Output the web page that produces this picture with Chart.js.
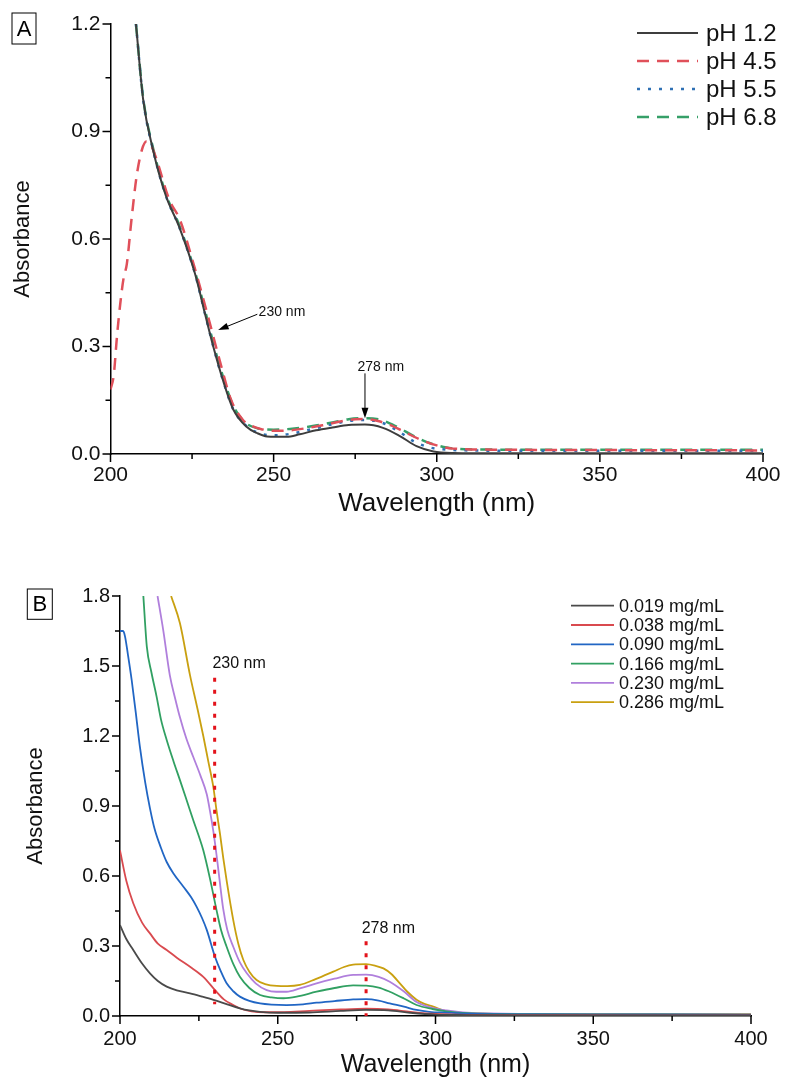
<!DOCTYPE html>
<html>
<head>
<meta charset="utf-8">
<script src="https://cdn.jsdelivr.net/npm/chart.js@4.4.0/dist/chart.umd.min.js"></script>
<style>
  body { margin: 0; background: #fff; width: 785px; height: 1080px; position: relative; overflow: hidden; }
  canvas { position: absolute; left: 0; }
  #chartA { top: 0; }
  #chartB { top: 550px; }
</style>
</head>
<body>
<canvas id="chartA" width="785" height="545"></canvas>
<canvas id="chartB" width="785" height="530"></canvas>
<script>
// ---- panel A : pH series ----
const xTicks = [200, 250, 300, 350, 400];
const yTicksA = [0, 0.3, 0.6, 0.9, 1.2];
const yTicksB = [0, 0.3, 0.6, 0.9, 1.2, 1.5, 1.8];

const labelsA = ['pH 1.2', 'pH 4.5', 'pH 5.5', 'pH 6.8'];

const wlPh12 = [207.8, 210, 213, 217, 221, 226, 229, 231.5, 234.5, 237.6, 241.7, 245, 248, 254, 258, 263, 268, 273, 278, 283.5, 288.7, 293.8, 299, 305, 320, 350, 400];
const absPh12 = [1.2, 0.99, 0.85, 0.72, 0.635, 0.50, 0.39, 0.30, 0.205, 0.125, 0.076, 0.058, 0.049, 0.048, 0.055, 0.066, 0.074, 0.081, 0.082, 0.073, 0.05, 0.022, 0.007, 0.003, 0.002, 0.002, 0.002];

const wlPh45 = [200, 201, 202, 203, 204, 205, 206.5, 208, 209.6, 211, 212.5, 214, 218, 221.3, 225.4, 230, 233.5, 237, 240.6, 243, 246, 250, 255, 260, 265, 270, 275, 278, 282, 286, 290, 295, 300, 305, 320, 350, 400];
const absPh45 = [0.18, 0.22, 0.33, 0.42, 0.49, 0.53, 0.66, 0.775, 0.848, 0.872, 0.86, 0.825, 0.71, 0.653, 0.532, 0.38, 0.26, 0.15, 0.095, 0.08, 0.07, 0.065, 0.066, 0.072, 0.08, 0.09, 0.097, 0.098, 0.092, 0.08, 0.062, 0.04, 0.024, 0.015, 0.012, 0.011, 0.010];

const wlPh55 = [207.8, 210, 213, 217, 221, 226, 229, 231.5, 234.5, 237.6, 241.7, 245, 250, 255, 262, 268, 273, 278, 283, 288, 293, 298, 303, 310, 330, 360, 400];
const absPh55 = [1.2, 0.99, 0.85, 0.72, 0.635, 0.50, 0.39, 0.30, 0.205, 0.125, 0.078, 0.06, 0.052, 0.056, 0.07, 0.083, 0.092, 0.095, 0.088, 0.065, 0.035, 0.018, 0.012, 0.01, 0.009, 0.009, 0.009];

const wlPh68 = [207.8, 210, 213, 217, 221, 226, 229, 231.5, 234.5, 237.6, 241, 245, 250, 255, 262, 268, 273, 278, 283, 288, 293, 298, 303, 310, 330, 360, 400];
const absPh68 = [1.2, 0.995, 0.855, 0.725, 0.64, 0.505, 0.40, 0.31, 0.215, 0.135, 0.09, 0.072, 0.068, 0.07, 0.078, 0.088, 0.097, 0.1, 0.095, 0.075, 0.05, 0.03, 0.018, 0.013, 0.012, 0.012, 0.012];

// ---- panel B : concentration series ----
const labelsB = ['0.019 mg/mL', '0.038 mg/mL', '0.090 mg/mL', '0.166 mg/mL', '0.230 mg/mL', '0.286 mg/mL'];

const wlC019 = [200, 202, 204.2, 207, 209.5, 212, 214.8, 218, 222.2, 226, 229.6, 234, 238, 241, 244.4, 250, 260, 270, 278, 285, 292, 300, 310, 330, 360, 400];
const absC019 = [0.39, 0.33, 0.283, 0.225, 0.183, 0.15, 0.126, 0.11, 0.097, 0.083, 0.069, 0.05, 0.033, 0.024, 0.018, 0.014, 0.015, 0.022, 0.026, 0.024, 0.014, 0.006, 0.004, 0.003, 0.003, 0.003];

const wlC038 = [200, 202, 204.2, 207, 209.5, 212, 214.8, 218, 222.2, 226.4, 230.1, 233, 235.9, 238.5, 241.7, 246, 252, 260, 270, 278, 285, 292, 300, 310, 330, 360, 400];
const absC038 = [0.71, 0.58, 0.483, 0.40, 0.354, 0.31, 0.283, 0.25, 0.211, 0.168, 0.111, 0.07, 0.047, 0.03, 0.02, 0.016, 0.017, 0.022, 0.028, 0.031, 0.028, 0.018, 0.009, 0.005, 0.004, 0.003, 0.003];

const wlC090 = [200, 201, 201.6, 202.5, 203.7, 205, 206.3, 208, 209.5, 211, 213, 214.8, 217, 220.1, 222.5, 224.3, 226, 227.5, 230.1, 232, 233.8, 236, 238, 241, 244.4, 248, 252.8, 258, 262.3, 268, 273.9, 278, 282, 285.5, 290, 294, 298, 303.5, 310, 330, 360, 400];
const absC090 = [1.65, 1.65, 1.626, 1.55, 1.44, 1.30, 1.154, 1.00, 0.89, 0.80, 0.72, 0.66, 0.61, 0.554, 0.51, 0.468, 0.42, 0.369, 0.254, 0.19, 0.14, 0.105, 0.083, 0.065, 0.054, 0.049, 0.047, 0.05, 0.057, 0.064, 0.071, 0.072, 0.066, 0.054, 0.04, 0.026, 0.018, 0.014, 0.01, 0.007, 0.006, 0.005];

const wlC166 = [207.4, 208.5, 210, 211.6, 213, 214.8, 217, 219, 221, 223.2, 225, 226.4, 228.5, 230.6, 232, 233.8, 236, 238, 241, 244.4, 248, 251.8, 256, 262.3, 268, 273.9, 278, 282, 285.5, 290, 294, 299, 303.5, 310, 330, 360, 400];
const absC166 = [1.8, 1.583, 1.47, 1.369, 1.27, 1.183, 1.09, 1.011, 0.93, 0.84, 0.77, 0.71, 0.59, 0.454, 0.37, 0.297, 0.22, 0.168, 0.12, 0.09, 0.08, 0.076, 0.083, 0.104, 0.12, 0.131, 0.13, 0.122, 0.104, 0.075, 0.047, 0.03, 0.02, 0.012, 0.008, 0.007, 0.006];

const wlC230 = [211.9, 213.7, 215.8, 217.5, 219, 221, 223.2, 225.5, 227.5, 228.5, 229.6, 230.6, 231.5, 232.7, 234, 235.9, 238, 240.2, 243, 246.5, 249.5, 252.8, 257, 262.3, 268, 273.9, 278, 282, 285.5, 290, 294, 299, 303.5, 310, 330, 360, 400];
const absC230 = [1.8, 1.654, 1.46, 1.36, 1.28, 1.19, 1.111, 1.03, 0.95, 0.88, 0.79, 0.69, 0.59, 0.46, 0.37, 0.297, 0.23, 0.183, 0.14, 0.111, 0.104, 0.104, 0.118, 0.14, 0.16, 0.176, 0.177, 0.168, 0.147, 0.105, 0.06, 0.035, 0.024, 0.014, 0.009, 0.008, 0.007];

const wlC286 = [216.2, 219, 222.2, 224.5, 226.4, 228, 229.6, 230.6, 231.7, 232.7, 233.8, 235.9, 237.5, 239.1, 241, 243.3, 246, 249.7, 253, 257, 262, 267.6, 271, 273.9, 278, 281, 283.5, 286, 288.7, 291, 294, 296.5, 299.3, 303.5, 310, 320, 340, 370, 400];
const absC286 = [1.8, 1.683, 1.46, 1.32, 1.2, 1.09, 0.98, 0.88, 0.78, 0.68, 0.58, 0.411, 0.31, 0.24, 0.19, 0.154, 0.137, 0.129, 0.128, 0.133, 0.158, 0.19, 0.21, 0.22, 0.222, 0.215, 0.204, 0.18, 0.14, 0.105, 0.07, 0.052, 0.04, 0.02, 0.012, 0.009, 0.008, 0.008, 0.008];

// red dotted markers in panel B
const markWl = [230, 278];
const markTop = [1.45, 0.32];
const markBottom = [0.05, 0];

const fontFam = '"Liberation Sans", Arial, sans-serif';

function toPoints(wl, abs) {
    return wl.map((w, i) => ({ x: w, y: abs[i] }));
}

function series(label, wl, abs, color, width, dash) {
    return {
        label: label,
        data: toPoints(wl, abs),
        borderColor: color,
        borderWidth: width,
        borderDash: dash || [],
        pointRadius: 0,
        fill: false,
        cubicInterpolationMode: 'monotone'
    };
}

// ticks, legend, panel letter and notes
const decor = {
    id: 'decor',
    afterDraw(chart, args, o) {
        const ctx = chart.ctx;
        const xs = chart.scales.x, ys = chart.scales.y;
        ctx.save();
        ctx.strokeStyle = '#000';
        ctx.lineWidth = 1.5;
        ctx.beginPath();
        o.xTicks.forEach((v, i) => {
            const px = xs.getPixelForValue(v);
            ctx.moveTo(px, ys.bottom); ctx.lineTo(px, ys.bottom + 8);
            if (i < o.xTicks.length - 1) {
                const pm = xs.getPixelForValue((v + o.xTicks[i + 1]) / 2);
                ctx.moveTo(pm, ys.bottom); ctx.lineTo(pm, ys.bottom + 5);
            }
        });
        o.yTicks.forEach((v, i) => {
            const py = ys.getPixelForValue(v);
            ctx.moveTo(xs.left, py); ctx.lineTo(xs.left - 8, py);
            if (i < o.yTicks.length - 1) {
                const pm = ys.getPixelForValue((v + o.yTicks[i + 1]) / 2);
                ctx.moveTo(xs.left, pm); ctx.lineTo(xs.left - 5, pm);
            }
        });
        ctx.stroke();

        // panel letter in a box
        const p = o.panel;
        ctx.lineWidth = 1;
        ctx.strokeRect(p.x, p.y, p.w, p.h);
        ctx.fillStyle = '#000';
        ctx.font = p.size + 'px ' + fontFam;
        ctx.textAlign = 'center';
        ctx.textBaseline = 'middle';
        ctx.fillText(p.text, p.x + p.w / 2, p.y + p.h / 2 + 1);

        // legend
        const L = o.legend;
        ctx.font = L.size + 'px ' + fontFam;
        ctx.textAlign = 'left';
        chart.data.datasets.filter(d => !d.marker).forEach((d, i) => {
            const y = L.y + i * L.dy;
            ctx.strokeStyle = d.borderColor;
            ctx.lineWidth = d.borderWidth;
            ctx.setLineDash(d.borderDash);
            ctx.beginPath();
            ctx.moveTo(L.x0, y); ctx.lineTo(L.x1, y);
            ctx.stroke();
            ctx.setLineDash([]);
            ctx.fillStyle = '#111';
            ctx.fillText(d.label, L.tx, y + 1);
        });

        // wavelength notes
        ctx.font = o.noteSize + 'px ' + fontFam;
        o.notes.forEach(n => {
            ctx.fillStyle = '#111';
            ctx.fillText(n.text, xs.getPixelForValue(n.at[0]), ys.getPixelForValue(n.at[1]));
            if (n.arrow) {
                const x1 = xs.getPixelForValue(n.arrow[0]), y1 = ys.getPixelForValue(n.arrow[1]);
                const x2 = xs.getPixelForValue(n.arrow[2]), y2 = ys.getPixelForValue(n.arrow[3]);
                const ang = Math.atan2(y2 - y1, x2 - x1);
                ctx.strokeStyle = '#000';
                ctx.lineWidth = 1;
                ctx.beginPath();
                ctx.moveTo(x1, y1); ctx.lineTo(x2 - 6 * Math.cos(ang), y2 - 6 * Math.sin(ang));
                ctx.stroke();
                ctx.fillStyle = '#000';
                ctx.beginPath();
                ctx.moveTo(x2, y2);
                ctx.lineTo(x2 - 11 * Math.cos(ang - 0.32), y2 - 11 * Math.sin(ang - 0.32));
                ctx.lineTo(x2 - 11 * Math.cos(ang + 0.32), y2 - 11 * Math.sin(ang + 0.32));
                ctx.closePath();
                ctx.fill();
            }
        });
        ctx.restore();
    }
};

function makeOptions(o) {
    return {
        responsive: false,
        animation: false,
        layout: { padding: { top: o.top, right: o.right, left: 0, bottom: 0 } },
        plugins: { legend: { display: false }, tooltip: { enabled: false }, decor: o.decor },
        scales: {
            x: {
                type: 'linear', min: 200, max: 400,
                afterBuildTicks: s => { s.ticks = xTicks.map(v => ({ value: v })); },
                ticks: { font: { family: fontFam, size: o.tickSize }, color: '#111', padding: o.xPad, maxRotation: 0, callback: v => String(v) },
                grid: { display: false },
                border: { color: '#000', width: 1.5 },
                title: { display: true, text: 'Wavelength (nm)', color: '#111', font: { family: fontFam, size: o.xTitleSize }, padding: { top: 0, bottom: o.xTitlePad } },
                afterFit: s => { s.height = o.xHeight; }
            },
            y: {
                type: 'linear', min: 0, max: o.yMax,
                afterBuildTicks: s => { s.ticks = o.yTicks.map(v => ({ value: v })); },
                ticks: { font: { family: fontFam, size: o.tickSize }, color: '#111', padding: o.yPad, callback: v => v.toFixed(1) },
                grid: { display: false },
                border: { color: '#000', width: 1.5 },
                title: { display: true, text: 'Absorbance', color: '#111', font: { family: fontFam, size: o.yTitleSize }, padding: { top: o.yTitlePad, bottom: 0 } },
                afterFit: s => { s.width = o.yWidth; }
            }
        }
    };
}

new Chart(document.getElementById('chartA'), {
    type: 'line',
    data: {
        datasets: [
            series(labelsA[0], wlPh12, absPh12, '#3d3d3d', 2),
            series(labelsA[1], wlPh45, absPh45, '#e0505a', 2.5, [12, 8]),
            series(labelsA[2], wlPh55, absPh55, '#2f70b4', 2.5, [3, 8]),
            series(labelsA[3], wlPh68, absPh68, '#36a068', 2.5, [12, 8])
        ]
    },
    options: makeOptions({
        top: 24, right: 22, xHeight: 91, yWidth: 110.5, yMax: 1.2, yTicks: yTicksA,
        tickSize: 21, xPad: 1, yPad: 2, xTitleSize: 26, xTitlePad: 26, yTitleSize: 22, yTitlePad: 10,
        decor: {
            xTicks: xTicks, yTicks: yTicksA,
            panel: { text: 'A', x: 12, y: 13, w: 24, h: 31, size: 22 },
            legend: { x0: 637, x1: 698, tx: 706, y: 33, dy: 28, size: 24 },
            noteSize: 14,
            notes: [
                { text: '230 nm', at: [245.4, 0.396], arrow: [245, 0.39, 233, 0.346] },
                { text: '278 nm', at: [275.7, 0.243], arrow: [278, 0.225, 278, 0.10] }
            ]
        }
    }),
    plugins: [decor]
});

const marks = markWl.map((w, i) => ({
    label: w + ' nm',
    marker: true,
    data: [{ x: w, y: markTop[i] }, { x: w, y: markBottom[i] }],
    borderColor: '#e3131b',
    borderWidth: 3,
    borderDash: [4, 8],
    pointRadius: 0,
    order: -1
}));

new Chart(document.getElementById('chartB'), {
    type: 'line',
    data: {
        datasets: [
            series(labelsB[0], wlC019, absC019, '#4a4a4a', 1.8),
            series(labelsB[1], wlC038, absC038, '#d94a4f', 1.8),
            series(labelsB[2], wlC090, absC090, '#2166c4', 1.8),
            series(labelsB[3], wlC166, absC166, '#31a062', 1.8),
            series(labelsB[4], wlC230, absC230, '#b07fdc', 1.8),
            series(labelsB[5], wlC286, absC286, '#c9a010', 1.8)
        ].concat(marks)
    },
    options: makeOptions({
        top: 46, right: 34, xHeight: 64, yWidth: 120, yMax: 1.8, yTicks: yTicksB,
        tickSize: 20, xPad: 3, yPad: 2, xTitleSize: 25, xTitlePad: 0, yTitleSize: 22, yTitlePad: 23,
        decor: {
            xTicks: xTicks, yTicks: yTicksB,
            panel: { text: 'B', x: 27.3, y: 39, w: 25, h: 30.3, size: 22 },
            legend: { x0: 571, x1: 614, tx: 619, y: 55.7, dy: 19.3, size: 18 },
            noteSize: 16,
            notes: [
                { text: '230 nm', at: [229.3, 1.509] },
                { text: '278 nm', at: [276.6, 0.373] }
            ]
        }
    }),
    plugins: [decor]
});
</script>
</body>
</html>
